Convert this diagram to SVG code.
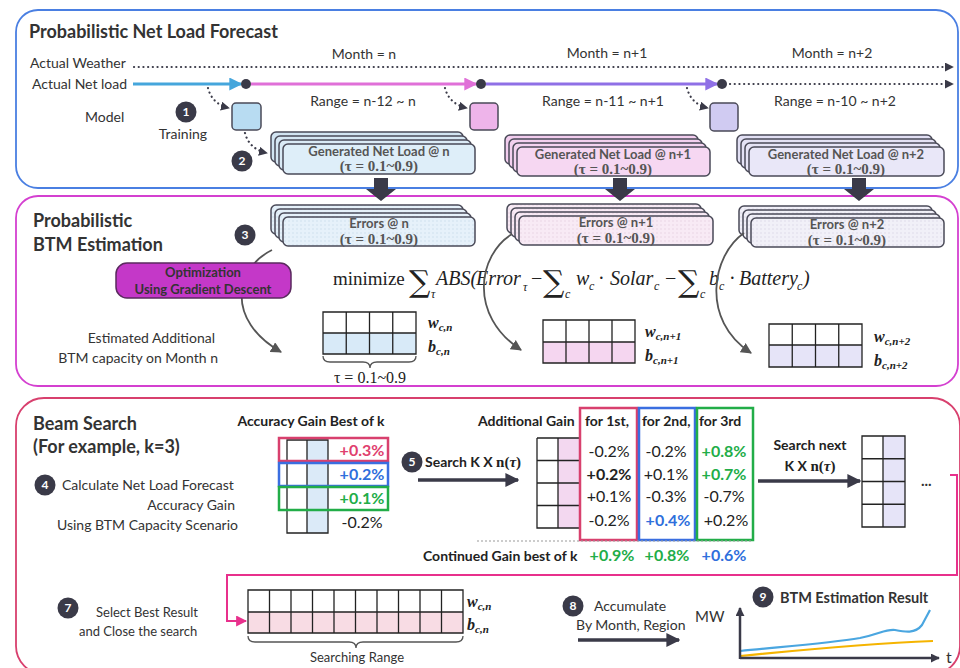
<svg xmlns="http://www.w3.org/2000/svg" width="960" height="668" viewBox="0 0 960 668">
<defs>
<style>
.s{font-family:Lato,"Open Sans","Liberation Sans",sans-serif;fill:#333}
.b{font-weight:bold}
.m{font-family:"Liberation Serif","DejaVu Serif",serif;fill:#222}
.sig{font-family:"DejaVu Serif","Liberation Serif",serif;fill:#222}
.i{font-style:italic}
.mid{text-anchor:middle}
.end{text-anchor:end}
.cell{fill:none;stroke:#222;stroke-width:1.3}
.stk{stroke:#4a4a58;stroke-width:1.5}
.dot{fill:none;stroke:#3a3a48;stroke-width:2.2;stroke-dasharray:0.1 4.6;stroke-linecap:round}
.num{fill:#3a3a48}
.numt{font-family:Lato,"Liberation Sans",sans-serif;font-weight:bold;font-size:12px;fill:#fff;text-anchor:middle}
.bx{font-family:Lato,"Open Sans","Liberation Sans",sans-serif;font-weight:bold;font-size:13px;fill:#555;text-anchor:middle}
.bt{font-family:"Liberation Serif","DejaVu Serif",serif;font-weight:bold;font-size:15px;fill:#555;text-anchor:middle}
.arc{fill:none;stroke:#555;stroke-width:1.8}
.thick{fill:none;stroke:#3a3a48;stroke-width:3.5}
.val{font-family:Lato,"Open Sans","Liberation Sans",sans-serif;font-size:16px;fill:#222;text-anchor:middle}
.red{fill:#e0406e}
.blu{fill:#2f6fdc}
.grn{fill:#22ad48}
.hd{font-size:14px;fill:#222}
</style>
<pattern id="pB" width="4" height="4" patternUnits="userSpaceOnUse"><rect width="4" height="4" fill="#e6f1fa"/><circle cx="1" cy="1" r="0.7" fill="#c8dcec"/></pattern>
<pattern id="pP" width="4" height="4" patternUnits="userSpaceOnUse"><rect width="4" height="4" fill="#f8eaf5"/><circle cx="1" cy="1" r="0.7" fill="#e6cfe0"/></pattern>
<pattern id="pV" width="4" height="4" patternUnits="userSpaceOnUse"><rect width="4" height="4" fill="#f1f0f8"/><circle cx="1" cy="1" r="0.7" fill="#d8d6e6"/></pattern>
<marker id="hDark" viewBox="0 0 10 10" refX="9" refY="5" markerWidth="9" markerHeight="9" markerUnits="userSpaceOnUse" orient="auto"><path d="M0,0 L10,5 L0,10 z" fill="#3a3a48"/></marker>
<marker id="hGray" viewBox="0 0 10 10" refX="9" refY="5" markerWidth="11" markerHeight="11" markerUnits="userSpaceOnUse" orient="auto"><path d="M0,0 L10,5 L0,10 z" fill="#555"/></marker>
<marker id="hThick" viewBox="0 0 10 10" refX="9" refY="5" markerWidth="14" markerHeight="14" markerUnits="userSpaceOnUse" orient="auto"><path d="M0,0 L10,5 L0,10 z" fill="#3a3a48"/></marker>
<marker id="hBlue" viewBox="0 0 10 10" refX="9" refY="5" markerWidth="13" markerHeight="13" markerUnits="userSpaceOnUse" orient="auto"><path d="M0,0 L10,5 L0,10 z" fill="#45a6dc"/></marker>
<marker id="hPink" viewBox="0 0 10 10" refX="9" refY="5" markerWidth="13" markerHeight="13" markerUnits="userSpaceOnUse" orient="auto"><path d="M0,0 L10,5 L0,10 z" fill="#e070d8"/></marker>
<marker id="hPurp" viewBox="0 0 10 10" refX="9" refY="5" markerWidth="13" markerHeight="13" markerUnits="userSpaceOnUse" orient="auto"><path d="M0,0 L10,5 L0,10 z" fill="#8f70e6"/></marker>
<marker id="hMag" viewBox="0 0 10 10" refX="9" refY="5" markerWidth="11" markerHeight="11" markerUnits="userSpaceOnUse" orient="auto"><path d="M0,0 L10,5 L0,10 z" fill="#e8308c"/></marker>
</defs>
<rect width="960" height="668" fill="#fff"/>

<!-- section frames -->
<g id="sections" fill="none">
<rect x="16" y="10" width="942" height="178" rx="22" stroke="#4a7fe2" stroke-width="1.8"/>
<rect x="16" y="196" width="942" height="190" rx="22" stroke="#d440d0" stroke-width="1.8"/>
<rect x="16" y="398" width="944" height="276" rx="28" stroke="#d8406e" stroke-width="1.8"/>
</g>

<!-- section 1 -->
<g id="forecast">
<text class="s b" x="29" y="38" font-size="18" fill="#222">Probabilistic Net Load Forecast</text>
<text class="s" x="30" y="68" font-size="14">Actual Weather</text>
<text class="s" x="32" y="89" font-size="14">Actual Net load</text>
<text class="s mid" x="364" y="59" font-size="14">Month = n</text>
<text class="s mid" x="607" y="58" font-size="14">Month = n+1</text>
<text class="s mid" x="832" y="58" font-size="14">Month = n+2</text>
<text class="s mid" x="363" y="106" font-size="14">Range = n-12 ~ n</text>
<text class="s mid" x="603" y="106" font-size="14">Range = n-11 ~ n+1</text>
<text class="s mid" x="835" y="106" font-size="14">Range = n-10 ~ n+2</text>
<text class="s" x="85" y="122" font-size="14">Model</text>
<text class="s mid" x="183" y="139" font-size="14">Training</text>
</g>
<g id="step1"><circle class="num" cx="186" cy="112" r="10.5"/><text class="numt" x="186" y="116">1</text></g>
<g id="step2"><circle class="num" cx="242" cy="161" r="10.5"/><text class="numt" x="242" y="165">2</text></g>
<g id="model-n"><rect x="232" y="103" width="29" height="27" rx="4" fill="#b8dcf2" class="stk"/></g>
<g id="model-n1"><rect x="470" y="103" width="28" height="27" rx="4" fill="#eeb4ea" class="stk"/></g>
<g id="model-n2"><rect x="710" y="103" width="28" height="28" rx="4" fill="#d0cbf2" class="stk"/></g>

<g id="gen-n">
<rect x="271" y="132" width="192" height="30" rx="5" fill="#d2e4f2" class="stk"/>
<rect x="275" y="136" width="192" height="30" rx="5" fill="#d6e7f4" class="stk"/>
<rect x="279" y="140" width="192" height="30" rx="5" fill="#daeaf6" class="stk"/>
<rect x="283" y="144" width="192" height="30" rx="5" fill="#deeef9" class="stk"/>
<text class="bx" x="379" y="156">Generated Net Load @ n</text>
<text class="bt" x="379" y="171">(τ = 0.1~0.9)</text>
</g>
<g id="gen-n1">
<rect x="505" y="135" width="193" height="29" rx="5" fill="#f2cdee" class="stk"/>
<rect x="509" y="139" width="193" height="29" rx="5" fill="#f3d0ef" class="stk"/>
<rect x="513" y="143" width="193" height="29" rx="5" fill="#f4d3f0" class="stk"/>
<rect x="517" y="147" width="193" height="29" rx="5" fill="#f6d7f2" class="stk"/>
<text class="bx" x="613" y="159">Generated Net Load @ n+1</text>
<text class="bt" x="613" y="174">(τ = 0.1~0.9)</text>
</g>
<g id="gen-n2">
<rect x="737" y="135" width="195" height="29" rx="5" fill="#e2e0f4" class="stk"/>
<rect x="741" y="139" width="195" height="29" rx="5" fill="#e4e2f5" class="stk"/>
<rect x="745" y="143" width="195" height="29" rx="5" fill="#e6e4f6" class="stk"/>
<rect x="749" y="147" width="195" height="29" rx="5" fill="#e9e7f8" class="stk"/>
<text class="bx" x="846" y="159">Generated Net Load @ n+2</text>
<text class="bt" x="846" y="174">(τ = 0.1~0.9)</text>
</g>

<!-- section 2 -->
<g id="btm-title">
<text class="s b" x="33" y="227" font-size="18" fill="#222">Probabilistic</text>
<text class="s b" x="33" y="251" font-size="18" fill="#222">BTM Estimation</text>
<text class="s end" x="215" y="343" font-size="14">Estimated Additional</text>
<text class="s end" x="218" y="363" font-size="14">BTM capacity on Month n</text>
</g>
<g id="step3"><circle class="num" cx="245" cy="235" r="10.5"/><text class="numt" x="245" y="239">3</text></g>

<g id="err-n">
<rect x="271" y="205" width="192" height="29" rx="5" fill="url(#pB)" class="stk"/>
<rect x="275" y="209" width="192" height="29" rx="5" fill="url(#pB)" class="stk"/>
<rect x="279" y="213" width="192" height="29" rx="5" fill="url(#pB)" class="stk"/>
<rect x="283" y="217" width="192" height="29" rx="5" fill="url(#pB)" class="stk"/>
<text class="bx" x="379" y="228">Errors @ n</text>
<text class="bt" x="379" y="244">(τ = 0.1~0.9)</text>
</g>
<g id="err-n1">
<rect x="507" y="204" width="194" height="29" rx="5" fill="url(#pP)" class="stk"/>
<rect x="511" y="208" width="194" height="29" rx="5" fill="url(#pP)" class="stk"/>
<rect x="515" y="212" width="194" height="29" rx="5" fill="url(#pP)" class="stk"/>
<rect x="519" y="216" width="194" height="29" rx="5" fill="url(#pP)" class="stk"/>
<text class="bx" x="616" y="227">Errors @ n+1</text>
<text class="bt" x="616" y="243">(τ = 0.1~0.9)</text>
</g>
<g id="err-n2">
<rect x="739" y="206" width="193" height="29" rx="5" fill="url(#pV)" class="stk"/>
<rect x="743" y="210" width="193" height="29" rx="5" fill="url(#pV)" class="stk"/>
<rect x="747" y="214" width="193" height="29" rx="5" fill="url(#pV)" class="stk"/>
<rect x="751" y="218" width="193" height="29" rx="5" fill="url(#pV)" class="stk"/>
<text class="bx" x="847" y="229">Errors @ n+2</text>
<text class="bt" x="847" y="245">(τ = 0.1~0.9)</text>
</g>

<g id="formula" class="m">
<text x="333" y="285" font-size="19">minimize</text>
<text class="sig" x="409" y="292" font-size="30">∑</text>
<text class="i" x="431" y="298" font-size="12">τ</text>
<text class="i" x="436" y="285" font-size="20">ABS(</text>
<text class="i" x="476" y="285" font-size="20">Error</text>
<text class="i" x="523" y="291" font-size="12">τ</text>
<text x="531" y="285" font-size="20">−</text>
<text class="sig" x="543" y="292" font-size="30">∑</text>
<text class="i" x="565" y="298" font-size="12">c</text>
<text class="i" x="576" y="285" font-size="20">w</text>
<text class="i" x="589" y="290" font-size="12">c</text>
<text x="598" y="285" font-size="20">·</text>
<text class="i" x="610" y="285" font-size="20">Solar</text>
<text class="i" x="654" y="290" font-size="12">c</text>
<text x="665" y="285" font-size="20">−</text>
<text class="sig" x="678" y="292" font-size="30">∑</text>
<text class="i" x="700" y="298" font-size="12">c</text>
<text class="i" x="709" y="285" font-size="20">b</text>
<text class="i" x="719" y="290" font-size="12">c</text>
<text x="729" y="285" font-size="20">·</text>
<text class="i" x="739" y="285" font-size="20">Battery</text>
<text class="i" x="797" y="290" font-size="12">c</text>
<text class="i" x="803" y="285" font-size="20">)</text>
</g>

<g id="cap-n">
<rect x="323" y="333" width="93" height="21" fill="#d8eaf8"/>
<path class="cell" d="M323,312H416V354H323Z M323,333H416 M346.25,312V354 M369.5,312V354 M392.75,312V354"/>
<path d="M323,356 Q323,362 330,362 H363 Q370,362 370,368 Q370,362 377,362 H409 Q416,362 416,356" fill="none" stroke="#555" stroke-width="1.3"/>
<text class="m mid" x="370" y="383" font-size="16">τ = 0.1~0.9</text>
<text class="m i b" x="428" y="328" font-size="16">w<tspan font-size="11" dy="3">c,n</tspan></text>
<text class="m i b" x="428" y="352" font-size="16">b<tspan font-size="11" dy="3">c,n</tspan></text>
</g>
<g id="cap-n1">
<rect x="543" y="342" width="92" height="21" fill="#f5d6f0"/>
<path class="cell" d="M543,320H635V363H543Z M543,342H635 M566,320V363 M589,320V363 M612,320V363"/>
<text class="m i b" x="645" y="337" font-size="16">w<tspan font-size="11" dy="3">c,n+1</tspan></text>
<text class="m i b" x="645" y="361" font-size="16">b<tspan font-size="11" dy="3">c,n+1</tspan></text>
</g>
<g id="cap-n2">
<rect x="769" y="345" width="93" height="22" fill="#e6e4f8"/>
<path class="cell" d="M769,324H862V367H769Z M769,345H862 M792.25,324V367 M815.5,324V367 M838.75,324V367"/>
<text class="m i b" x="874" y="342" font-size="16">w<tspan font-size="11" dy="3">c,n+2</tspan></text>
<text class="m i b" x="874" y="366" font-size="16">b<tspan font-size="11" dy="3">c,n+2</tspan></text>
</g>

<!-- section 3 -->
<g id="beam-title">
<text class="s b" x="33" y="430" font-size="18" fill="#222">Beam Search</text>
<text class="s b" x="33" y="453" font-size="18" fill="#222">(For example, k=3)</text>
<text class="s" x="62" y="490" font-size="14">Calculate Net Load Forecast</text>
<text class="s end" x="235" y="510" font-size="14">Accuracy Gain</text>
<text class="s end" x="238" y="530" font-size="14">Using BTM Capacity Scenario</text>
</g>
<g id="step4"><circle class="num" cx="45" cy="485" r="10.5"/><text class="numt" x="45" y="489">4</text></g>

<g id="gain-table">
<text class="s b mid hd" x="311" y="426">Accuracy Gain Best of k</text>
<rect x="307" y="440" width="21" height="93" fill="#dbeaf8"/>
<path class="cell" d="M287,440H328V533H287Z M307,440V533 M287,463.25H328 M287,486.5H328 M287,509.75H328"/>
<rect x="279" y="438" width="109" height="23" fill="none" stroke="#d8406e" stroke-width="2.5"/>
<rect x="279" y="463" width="109" height="23" fill="none" stroke="#3a6ee0" stroke-width="2.5"/>
<rect x="279" y="487" width="109" height="23" fill="none" stroke="#22ad48" stroke-width="2.5"/>
<text class="val b red" x="362" y="456">+0.3%</text>
<text class="val b blu" x="362" y="480">+0.2%</text>
<text class="val b grn" x="362" y="504">+0.1%</text>
<text class="val" x="362" y="528">-0.2%</text>
</g>

<g id="step5"><circle class="num" cx="412" cy="462" r="10.5"/><text class="numt" x="412" y="466">5</text>
<text class="s b hd" x="425" y="467">Search K X <tspan class="m" font-size="15">n(<tspan class="i">τ</tspan>)</tspan></text></g>

<g id="add-table">
<text class="s b hd" x="478" y="426">Additional Gain</text>
<text class="s b hd" x="585" y="426">for 1st,</text>
<text class="s b hd" x="642" y="426">for 2nd,</text>
<text class="s b hd" x="699" y="426">for 3rd</text>
<rect x="558" y="438" width="22" height="90" fill="#f3d8f0"/>
<path class="cell" d="M537,438H580 M537,438V528H580 M558,438V528 M537,460.5H580 M537,483H580 M537,505.5H580"/>
<rect x="580" y="408" width="57" height="132" fill="none" stroke="#d8406e" stroke-width="2.5"/>
<rect x="639" y="408" width="56" height="132" fill="none" stroke="#3a6ee0" stroke-width="2.5"/>
<rect x="697" y="408" width="56" height="132" fill="none" stroke="#22ad48" stroke-width="2.5"/>
<text class="val" x="609" y="457">-0.2%</text>
<text class="val b" x="609" y="480">+0.2%</text>
<text class="val" x="609" y="502">+0.1%</text>
<text class="val" x="609" y="526">-0.2%</text>
<text class="val" x="666" y="457">-0.2%</text>
<text class="val" x="666" y="480">+0.1%</text>
<text class="val" x="666" y="502">-0.3%</text>
<text class="val b blu" x="668" y="526">+0.4%</text>
<text class="val b grn" x="724" y="457">+0.8%</text>
<text class="val b grn" x="724" y="480">+0.7%</text>
<text class="val" x="724" y="502">-0.7%</text>
<text class="val" x="726" y="526">+0.2%</text>
<line x1="477" y1="541" x2="753" y2="541" stroke="#999" stroke-width="1.2" stroke-dasharray="2 2"/>
<text class="s b hd" x="423" y="561">Continued Gain best of k</text>
<text class="val b grn" x="612" y="561">+0.9%</text>
<text class="val b grn" x="667" y="561">+0.8%</text>
<text class="val b blu" x="724" y="561">+0.6%</text>
</g>

<g id="next-search">
<text class="s b mid hd" x="810" y="450">Search next</text>
<text class="s b mid hd" x="810" y="471">K X <tspan class="m" font-size="15">n(<tspan class="i">τ</tspan>)</tspan></text>
<rect x="883" y="436" width="22" height="91" fill="#e6e4f8"/>
<path class="cell" d="M862,436H905V527H862Z M883,436V527 M862,458.75H905 M862,481.5H905 M862,504.25H905"/>
<text class="s b" x="921" y="486" font-size="15" fill="#222">...</text>
</g>

<g id="step7"><circle class="num" cx="68" cy="608" r="10.5"/><text class="numt" x="68" y="612">7</text>
<text class="s" x="96" y="617" font-size="13">Select Best Result</text>
<text class="s" x="79" y="636" font-size="13">and Close the search</text></g>

<g id="range-table">
<rect x="248" y="612" width="215" height="21" fill="#f8dce4"/>
<path class="cell" d="M248,590H463V633H248Z M248,612H463 M269.5,590V633 M291,590V633 M312.5,590V633 M334,590V633 M355.5,590V633 M377,590V633 M398.5,590V633 M420,590V633 M441.5,590V633"/>
<path d="M248,636 Q248,642 255,642 H349 Q356,642 356,648 Q356,642 363,642 H456 Q463,642 463,636" fill="none" stroke="#555" stroke-width="1.3"/>
<text class="s mid" x="357" y="662" font-size="13">Searching Range</text>
<text class="m i b" x="467" y="607" font-size="16">w<tspan font-size="11" dy="3">c,n</tspan></text>
<text class="m i b" x="467" y="630" font-size="16">b<tspan font-size="11" dy="3">c,n</tspan></text>
</g>

<g id="step8"><circle class="num" cx="573" cy="606" r="10.5"/><text class="numt" x="573" y="610">8</text>
<text class="s" x="594" y="611" font-size="14">Accumulate</text>
<text class="s" x="576" y="630" font-size="14">By Month, Region</text></g>

<g id="step9"><circle class="num" cx="763" cy="597" r="10.5"/><text class="numt" x="763" y="601">9</text>
<text class="s b" x="780" y="603" font-size="14.5" fill="#222">BTM Estimation Result</text>
<text class="s" x="695" y="622" font-size="15">MW</text>
<text class="s" x="946" y="663" font-size="16">t</text>
<path d="M740,651 C790,646 830,643 860,638 C880,634 885,629 895,630 C905,632 915,634 922,625 L930,610" fill="none" stroke="#4aa6e0" stroke-width="2.2"/>
<path d="M740,656 C800,650 860,644 933,641" fill="none" stroke="#f5b400" stroke-width="2.2"/>
<path d="M740,659 V608" fill="none" stroke="#3a3a48" stroke-width="2.5" marker-end="url(#hDark)"/>
<path d="M740,658 H939" fill="none" stroke="#3a3a48" stroke-width="2.5" marker-end="url(#hDark)"/>
</g>

<!-- connectors -->
<g id="connectors">
<path class="dot" d="M134,67 H946"/>
<path d="M946,67 H953" stroke="none" marker-end="url(#hDark)"/>
<path d="M133,84 H241" stroke="#45a6dc" stroke-width="3" marker-end="url(#hBlue)"/>
<circle cx="246" cy="84" r="5" fill="#3a3a48"/>
<path d="M251,84 H476" stroke="#e070d8" stroke-width="3" marker-end="url(#hPink)"/>
<circle cx="481" cy="84" r="5" fill="#3a3a48"/>
<path d="M486,84 H717" stroke="#8f70e6" stroke-width="3" marker-end="url(#hPurp)"/>
<circle cx="722" cy="84" r="5" fill="#3a3a48"/>
<path class="dot" d="M730,84 H946"/>
<path d="M946,84 H953" stroke="none" marker-end="url(#hDark)"/>
<path class="dot" d="M208,88 Q212,104 229,108" marker-end="url(#hDark)"/>
<path class="dot" d="M445,88 Q449,104 467,108" marker-end="url(#hDark)"/>
<path class="dot" d="M687,88 Q691,104 708,108" marker-end="url(#hDark)"/>
<path class="dot" d="M245,133 Q249,149 267,153" marker-end="url(#hDark)"/>
<g fill="#3a3a48">
<path d="M374,178 H388 V189 H396 L381,201 L366,189 H374 Z"/>
<path d="M613,178 H627 V189 H635 L620,201 L605,189 H613 Z"/>
<path d="M852,178 H866 V189 H874 L859,201 L844,189 H852 Z"/>
</g>
<path class="arc" d="M272,250 C235,268 225,320 281,352" marker-end="url(#hGray)"/>
<path class="arc" d="M512,234 C478,255 468,315 521,350" marker-end="url(#hGray)"/>
<path class="arc" d="M744,233 C712,255 700,320 751,353" marker-end="url(#hGray)"/>
<path class="thick" d="M418,480 H518" marker-end="url(#hThick)"/>
<path class="thick" d="M758,481 H860" marker-end="url(#hThick)"/>
<path class="thick" d="M578,640 H679" marker-end="url(#hThick)"/>
<path d="M950,475 H957 V575 H227 V621 H246" fill="none" stroke="#e8308c" stroke-width="2" marker-end="url(#hMag)"/>
</g>

<g id="optimizer">
<rect x="116" y="263" width="175" height="35" rx="11" fill="#c438c8" stroke="#5a2a5e" stroke-width="1.5"/>
<text class="s b mid" x="203" y="277" font-size="13" fill="#fff">Optimization</text>
<text class="s b mid" x="203" y="294" font-size="13" fill="#fff">Using Gradient Descent</text>
</g>
</svg>
